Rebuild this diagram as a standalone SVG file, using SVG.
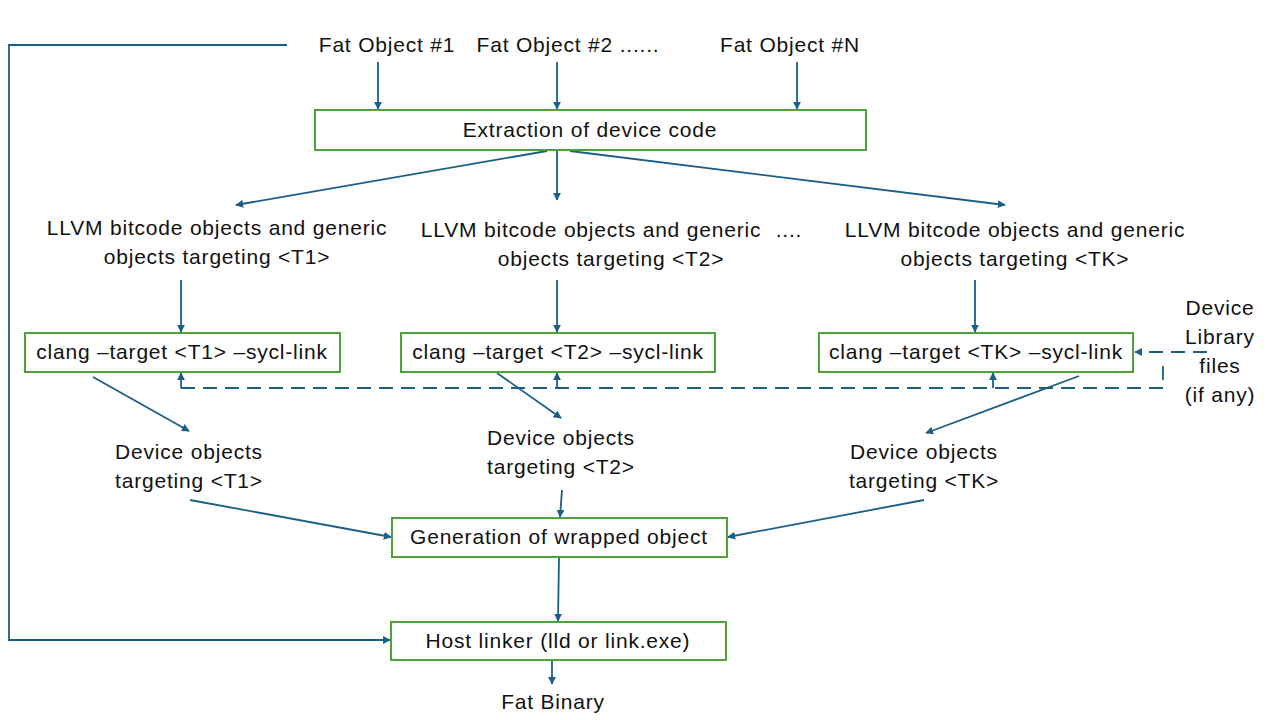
<svg xmlns="http://www.w3.org/2000/svg" width="1280" height="720" viewBox="0 0 1280 720">
<defs>
<marker id="ah" viewBox="0 0 10 10" refX="9" refY="5" markerWidth="8" markerHeight="8" markerUnits="userSpaceOnUse" orient="auto">
<path d="M0,0 L10,5 L0,10 z" fill="#1b5f86"/>
</marker>
<style>
text{font-family:"Liberation Sans",Arial,sans-serif;font-size:21px;letter-spacing:0.8px;fill:#111;text-anchor:middle}
.box{fill:#fff;stroke:#4fa23a;stroke-width:2}
.c{fill:none;stroke:#1b5f86;stroke-width:1.8}
.a{marker-end:url(#ah)}
.d{stroke-dasharray:14 8}
</style>
</defs>
<rect width="1280" height="720" fill="#fff"/>
<g id="connectors">
<polyline class="c a" points="287,45 9,45 9,640 390,640"/>
<line class="c a" x1="378" y1="62" x2="378" y2="109"/>
<line class="c a" x1="557" y1="62" x2="557" y2="109"/>
<line class="c a" x1="797" y1="62" x2="797" y2="109"/>
<line class="c a" x1="547" y1="151" x2="236" y2="205"/>
<line class="c a" x1="557" y1="151" x2="557" y2="200"/>
<line class="c a" x1="570" y1="151" x2="1005" y2="205"/>
<line class="c a" x1="181" y1="280" x2="181" y2="332"/>
<line class="c a" x1="557" y1="280" x2="557" y2="332"/>
<line class="c a" x1="975" y1="280" x2="975" y2="332"/>
<polyline class="c d" points="181,388 1163,388 1163,360"/>
<line class="c a d" x1="1207" y1="352" x2="1135" y2="352"/>
<line class="c a" x1="181" y1="388" x2="181" y2="373"/>
<line class="c a" x1="557" y1="388" x2="557" y2="373"/>
<line class="c a" x1="993" y1="388" x2="993" y2="373"/>
<line class="c a" x1="93" y1="377" x2="189" y2="431"/>
<line class="c a" x1="497" y1="373" x2="561" y2="418"/>
<line class="c a" x1="1079" y1="376" x2="926" y2="433"/>
<line class="c a" x1="190" y1="500" x2="391" y2="537"/>
<line class="c a" x1="562" y1="490" x2="560" y2="517"/>
<line class="c a" x1="924" y1="500" x2="728" y2="537"/>
<line class="c a" x1="559" y1="557" x2="558" y2="621"/>
<line class="c a" x1="552" y1="661" x2="552" y2="684"/>
</g>
<g id="fat1"><text x="387" y="52">Fat Object #1</text></g>
<g id="fat2"><text x="568" y="52">Fat Object #2 ......</text></g>
<g id="fatN"><text x="790" y="52">Fat Object #N</text></g>
<g id="extract"><rect class="box" x="315" y="110" width="551" height="40"/><text x="590" y="137">Extraction of device code</text></g>
<g id="llvm1"><text x="217" y="235">LLVM bitcode objects and generic</text><text x="217" y="264">objects targeting &lt;T1&gt;</text></g>
<g id="llvm2"><text x="591" y="237">LLVM bitcode objects and generic</text><text x="611" y="266">objects targeting &lt;T2&gt;</text></g>
<g id="dots"><text x="789" y="237">....</text></g>
<g id="llvmK"><text x="1015" y="237">LLVM bitcode objects and generic</text><text x="1015" y="266">objects targeting &lt;TK&gt;</text></g>
<g id="clang1"><rect class="box" x="25" y="333" width="315" height="39"/><text x="182" y="359">clang –target &lt;T1&gt; –sycl-link</text></g>
<g id="clang2"><rect class="box" x="401" y="333" width="314" height="39"/><text x="558" y="359">clang –target &lt;T2&gt; –sycl-link</text></g>
<g id="clangK"><rect class="box" x="819" y="333" width="314" height="39"/><text x="976" y="359">clang –target &lt;TK&gt; –sycl-link</text></g>
<g id="devlib"><text x="1220" y="315">Device</text><text x="1220" y="344">Library</text><text x="1220" y="373">files</text><text x="1220" y="402">(if any)</text></g>
<g id="dev1"><text x="189" y="459">Device objects</text><text x="189" y="488">targeting &lt;T1&gt;</text></g>
<g id="dev2"><text x="561" y="445">Device objects</text><text x="561" y="474">targeting &lt;T2&gt;</text></g>
<g id="devK"><text x="924" y="459">Device objects</text><text x="924" y="488">targeting &lt;TK&gt;</text></g>
<g id="gen"><rect class="box" x="392" y="518" width="335" height="39"/><text x="559" y="544">Generation of wrapped object</text></g>
<g id="host"><rect class="box" x="391" y="622" width="335" height="38"/><text x="558" y="648">Host linker (lld or link.exe)</text></g>
<g id="fatbin"><text x="553" y="709">Fat Binary</text></g>
</svg>
